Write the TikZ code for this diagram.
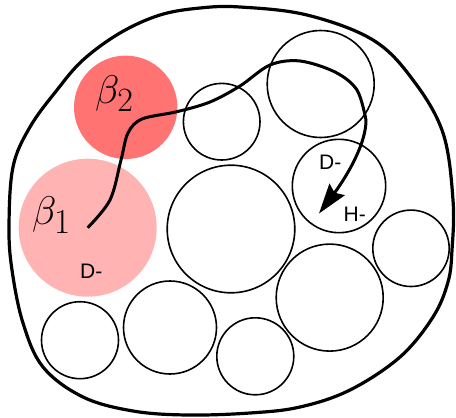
\RequirePackage{fix-cm}
\documentclass[tikz,border=0pt]{standalone}
\usepackage{fontspec}
\newfontfamily\labfont{Liberation Sans}
\usetikzlibrary{arrows.meta}
\definecolor{betared}{RGB}{255,115,115}
\definecolor{betapink}{RGB}{255,179,179}
\tikzset{
  ball/.style={circle, draw=black, line width=1.6pt, inner sep=0pt},
  betaball/.style={circle, inner sep=0pt},
  betalabel/.style={anchor=base west, inner sep=0pt, font=\fontsize{40}{44}\selectfont},
  smalllabel/.style={anchor=base west, inner sep=0pt, font=\labfont\fontsize{21}{23}\selectfont},
  outline/.style={line width=3.2pt},
  walk/.style={line width=3pt, -{Stealth[length=30pt, width=19pt, inset=4pt]}}
}
\begin{document}
\begin{tikzpicture}[x=1pt,y=-1pt]
\useasboundingbox (0,0) rectangle (456,418);
% outer blob
\draw[outline] plot[smooth cycle, tension=0.6] coordinates {
 (240,7) (307,15) (373,40) (413,80) (443,133) (453,200) (452,250) (448,282)
 (433,317) (400,357) (350,390) (300,407) (250,413) (187,415) (133,411)
 (83,397) (43,367) (23,323) (12,270) (9,227) (13,167) (30,127) (57,90)
 (83,60) (120,33) (160,15) (200,8)};
% coloured balls
\node[betaball, fill=betared, minimum size=103.4pt] (b2) at (125.7,107.3) {};
\node[betaball, fill=betapink, minimum size=138pt] (b1) at (87.7,227.7) {};
% plain balls
\node[ball, minimum size=76.6pt] (ca) at (221.7,121.7) {};
\node[ball, minimum size=107pt] (cb) at (320.7,84) {};
\node[ball, minimum size=93.4pt] (cc) at (339,186) {};
\node[ball, minimum size=127.6pt] (cd) at (231,229) {};
\node[ball, minimum size=76.4pt] (ce) at (411,248.3) {};
\node[ball, minimum size=107pt] (cf) at (329.7,297.6) {};
\node[ball, minimum size=77pt] (cg) at (80,340.2) {};
\node[ball, minimum size=93pt] (ch) at (170,327.5) {};
\node[ball, minimum size=77pt] (ci) at (255.3,356.3) {};
% labels
\node[betalabel] (lb2) at (95,103) {$\beta_{\mbox{\fontsize{34}{34}\selectfont 2}}$};
\node[betalabel] (lb1) at (32,224) {$\beta_{\mbox{\fontsize{35}{35}\selectfont 1}}$};
\node[smalllabel] (d1) at (80,278.5) {D-};
\node[smalllabel] (d2) at (319,169) {D-};
\node[smalllabel] (h2) at (343.5,221.7) {H-};
% walk
\coordinate (walkend) at (319,213.5);
\draw[walk] plot[smooth, tension=0.55] coordinates {
 (b1.center) (110,200) (121,160) (128,133) (142,119) (177,111.7) (210,102)
 (240,86) (270,65) (300,61) (335,72) (357,90) (366,120)}
 .. controls (366,150) and (337,189.6) .. (walkend);
\end{tikzpicture}
\end{document}
